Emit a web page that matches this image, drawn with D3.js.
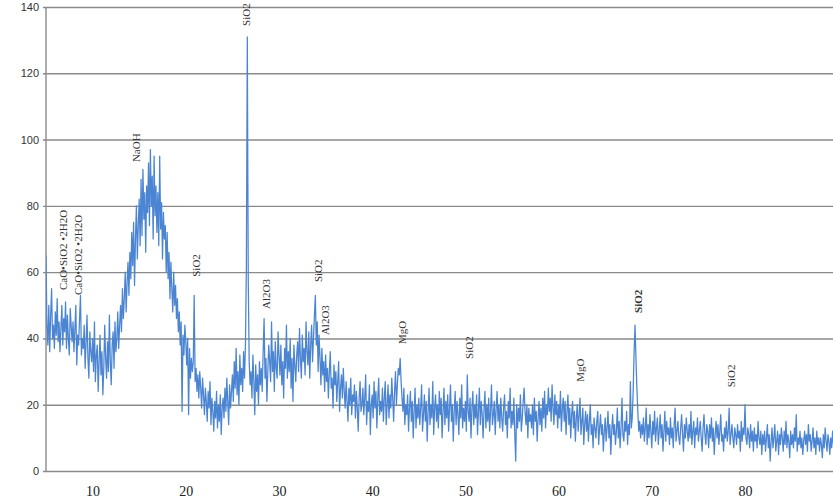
<!DOCTYPE html>
<html><head><meta charset="utf-8">
<script src="https://cdn.jsdelivr.net/npm/d3@7"></script>
<style>
html,body{margin:0;padding:0;background:#fff;}
svg{display:block;}
</style></head>
<body>
<svg id="chart" width="833" height="504"></svg>
<script>
// 2θ scan starts at 5°, step 0.1°
const thetaStart = 5;
const thetaStep = 0.1;
// intensity readings, 2θ 5.0–19.9
const scanA = [
65,44,38,50,36,47,55,40,44,37, 48,41,52,39,45,36,43,50,38,46,
42,51,37,47,40,35,49,44,39,45, 36,43,50,32,41,38,46,53,35,40,
37,44,31,39,47,34,28,42,36,33, 40,30,45,27,35,38,24,33,41,29,
36,23,31,44,34,28,39,30,47,33, 26,38,42,31,45,36,40,48,37,44,
50,42,55,46,52,60,48,57,63,53, 66,58,72,62,75,56,70,80,64,74,
82,68,88,71,91,76,84,66,86,78, 93,74,97,80,89,70,95,77,86,72,
84,68,95,73,81,64,78,70,74,60, 72,58,66,52,63,55,48,60,50,56,
46,52,42,48,38,45,18,41,35,44];
// 2θ 20.0–34.9
const scanB = [
39,32,40,17,37,28,34,30,33,53, 27,31,24,29,22,30,25,19,28,23,
17,25,21,15,24,19,27,14,22,18, 12,21,16,24,13,20,15,23,11,19,
22,16,25,18,28,21,14,26,19,24, 29,21,33,25,37,23,30,20,35,26,
31,24,36,28,38,62,131,58,33,26, 30,22,35,27,17,32,24,29,20,33,
26,31,24,36,46,28,34,21,30,38, 33,27,45,30,36,24,39,31,28,42,
35,29,38,26,33,22,37,31,44,28, 36,30,40,25,34,21,38,32,27,35,
39,30,43,34,28,41,33,37,29,45, 36,32,42,28,38,44,33,40,47,53,
38,45,30,41,34,26,37,29,33,24];
// 2θ 35.0–49.9
const scanC = [
35,27,31,22,30,36,25,28,19,32, 26,30,21,27,33,18,25,29,22,31,
24,19,27,21,15,25,20,28,17,23, 21,26,16,24,19,12,22,27,18,20,
25,17,22,29,14,21,18,26,11,20, 23,16,27,19,24,13,22,28,17,21,
18,25,15,22,27,14,20,26,16,23, 19,28,22,15,24,30,20,26,31,29,
34,27,22,18,25,14,20,17,23,12, 19,24,15,21,10,18,25,13,20,16,
22,14,19,26,12,17,23,15,21,9, 18,25,14,20,16,27,11,19,23,15,
20,13,24,17,22,10,18,25,14,21, 16,23,12,19,26,15,20,9,18,24,
14,21,17,11,22,16,26,13,19,15];
// 2θ 50.0–64.9
const scanD = [
21,12,29,18,15,22,10,19,24,14, 20,16,23,11,18,25,14,21,17,10,
19,24,13,20,15,22,12,18,26,14, 17,21,11,19,24,15,20,13,22,16,
12,19,23,14,18,10,21,16,25,13, 18,14,22,11,3,20,13,19,15,23,
12,16,21,25,18,14,20,10,19,15, 17,13,20,11,22,15,18,9,16,21,
14,19,12,22,16,24,13,20,17,25, 18,22,15,26,19,14,23,17,21,13,
20,16,24,12,19,22,15,21,11,18, 23,14,19,10,17,21,13,18,9,16,
20,12,17,22,11,15,19,8,14,18, 12,17,9,15,20,11,14,7,16,13,
10,15,18,8,13,17,11,14,6,12];
// 2θ 65.0–79.9
const scanE = [
16,9,13,18,10,14,5,12,17,11, 14,8,12,19,10,15,7,13,22,11,
9,15,12,18,8,14,11,27,13,16, 24,36,44,34,25,18,12,15,10,14,
11,16,9,13,19,8,14,10,17,12, 7,15,11,18,9,13,16,8,12,17,
10,14,6,12,18,9,15,11,13,8, 16,10,13,7,14,19,9,12,15,10,
8,13,17,11,6,14,10,16,12,9, 14,10,18,8,12,15,7,13,11,16,
9,12,15,10,6,13,17,11,8,14, 12,7,14,10,16,9,13,5,11,15,
10,14,8,12,17,9,11,6,13,10, 15,9,12,19,8,11,14,10,7,13,
11,8,14,10,12,6,15,9,13,11];
// 2θ 80.0–90.0
const scanF = [
20,10,8,13,11,7,14,9,12,6, 13,9,11,7,15,10,8,12,5,11,
8,12,6,10,14,7,11,3,9,13, 7,10,14,6,9,12,5,11,8,13,
10,6,12,8,15,7,11,9,4,12, 8,11,7,13,9,17,6,10,8,12,
7,10,5,9,12,8,11,6,14,9, 11,6,9,13,7,10,5,12,8,10,
6,10,8,4,11,7,13,9,6,11, 9,5,10,7,12,8,6,10,7,9,
8];

const xTicks = [10,20,30,40,50,60,70,80];
const yTicks = [0,20,40,60,80,100,120,140];

// phase annotations: label, 2θ, intensity level of label foot
const annText  = ["CaO•SiO2 •2H2O","CaO•SiO2 •2H2O","NaOH","SiO2","SiO2","Al2O3","SiO2","Al2O3","MgO","SiO2","MgO","SiO2","SiO2"];
const annTheta = [6.88, 8.49, 14.66, 21.09, 26.51, 28.6, 34.18, 34.94, 43.2, 50.4, 62.3, 68.55, 78.5];
const annLevel = [54.6, 53.1, 93.2, 58.6, 134.3, 48.9, 57.0, 41.0, 38.3, 33.8, 26.9, 47.7, 25.3];
const annBold  = [false,false,false,false,false,false,false,false,false,false,false,true,false];

const intensity = [].concat(scanA, scanB, scanC, scanD, scanE, scanF);
const data = intensity.map((v,i)=>({t: thetaStart + i*thetaStep, v}));

const svg = d3.select("#chart");
const x = d3.scaleLinear().domain([5, 90]).range([46, 838.2]);
const y = d3.scaleLinear().domain([0, 140]).range([471, 7]);

svg.append("defs").append("clipPath").attr("id","clip")
  .append("rect").attr("x",46).attr("y",0).attr("width",787).attr("height",504);

// gridlines + y labels
const yAxis = d3.axisLeft(y).tickValues(yTicks).tickSize(-(833-46)).tickPadding(7).tickFormat(d3.format("d"));
const gy = svg.append("g").attr("transform","translate(46,0)").call(yAxis);
gy.select(".domain").remove();
gy.selectAll(".tick line").attr("stroke","#8a8a8a").attr("stroke-width",1.4).attr("x1",-3);
gy.selectAll(".tick text").attr("font-family","'Liberation Sans', Arial, sans-serif").attr("font-size",11).attr("fill","#333");

// y axis line
svg.append("line").attr("x1",46).attr("x2",46).attr("y1",y(140)).attr("y2",y(0))
  .attr("stroke","#8a8a8a").attr("stroke-width",1.4);

// x labels
const xAxis = d3.axisBottom(x).tickValues(xTicks).tickSize(0).tickPadding(15).tickFormat(d3.format("d"));
const gx = svg.append("g").attr("transform",`translate(0,${y(0)})`).call(xAxis);
gx.select(".domain").remove();
gx.selectAll(".tick text").attr("font-family","'Liberation Serif', 'Times New Roman', serif").attr("font-size",14).attr("fill","#222");

// data line
const line = d3.line().x(d=>x(d.t)).y(d=>y(d.v));
svg.append("path").datum(data).attr("clip-path","url(#clip)")
  .attr("d", line).attr("fill","none").attr("stroke","#4a84d2").attr("stroke-width",1.25).attr("stroke-linejoin","round");

// annotations
annText.forEach((t,i)=>{
  const px = x(annTheta[i]), py = y(annLevel[i]);
  svg.append("text").attr("transform",`translate(${px},${py}) rotate(-90)`)
    .attr("dy","0.35em").attr("text-anchor","start")
    .attr("font-family","'Liberation Serif', 'Times New Roman', serif")
    .attr("font-size",11).attr("font-weight", annBold[i] ? "bold" : "normal")
    .attr("fill","#333").text(t);
});
</script>
</body></html>
